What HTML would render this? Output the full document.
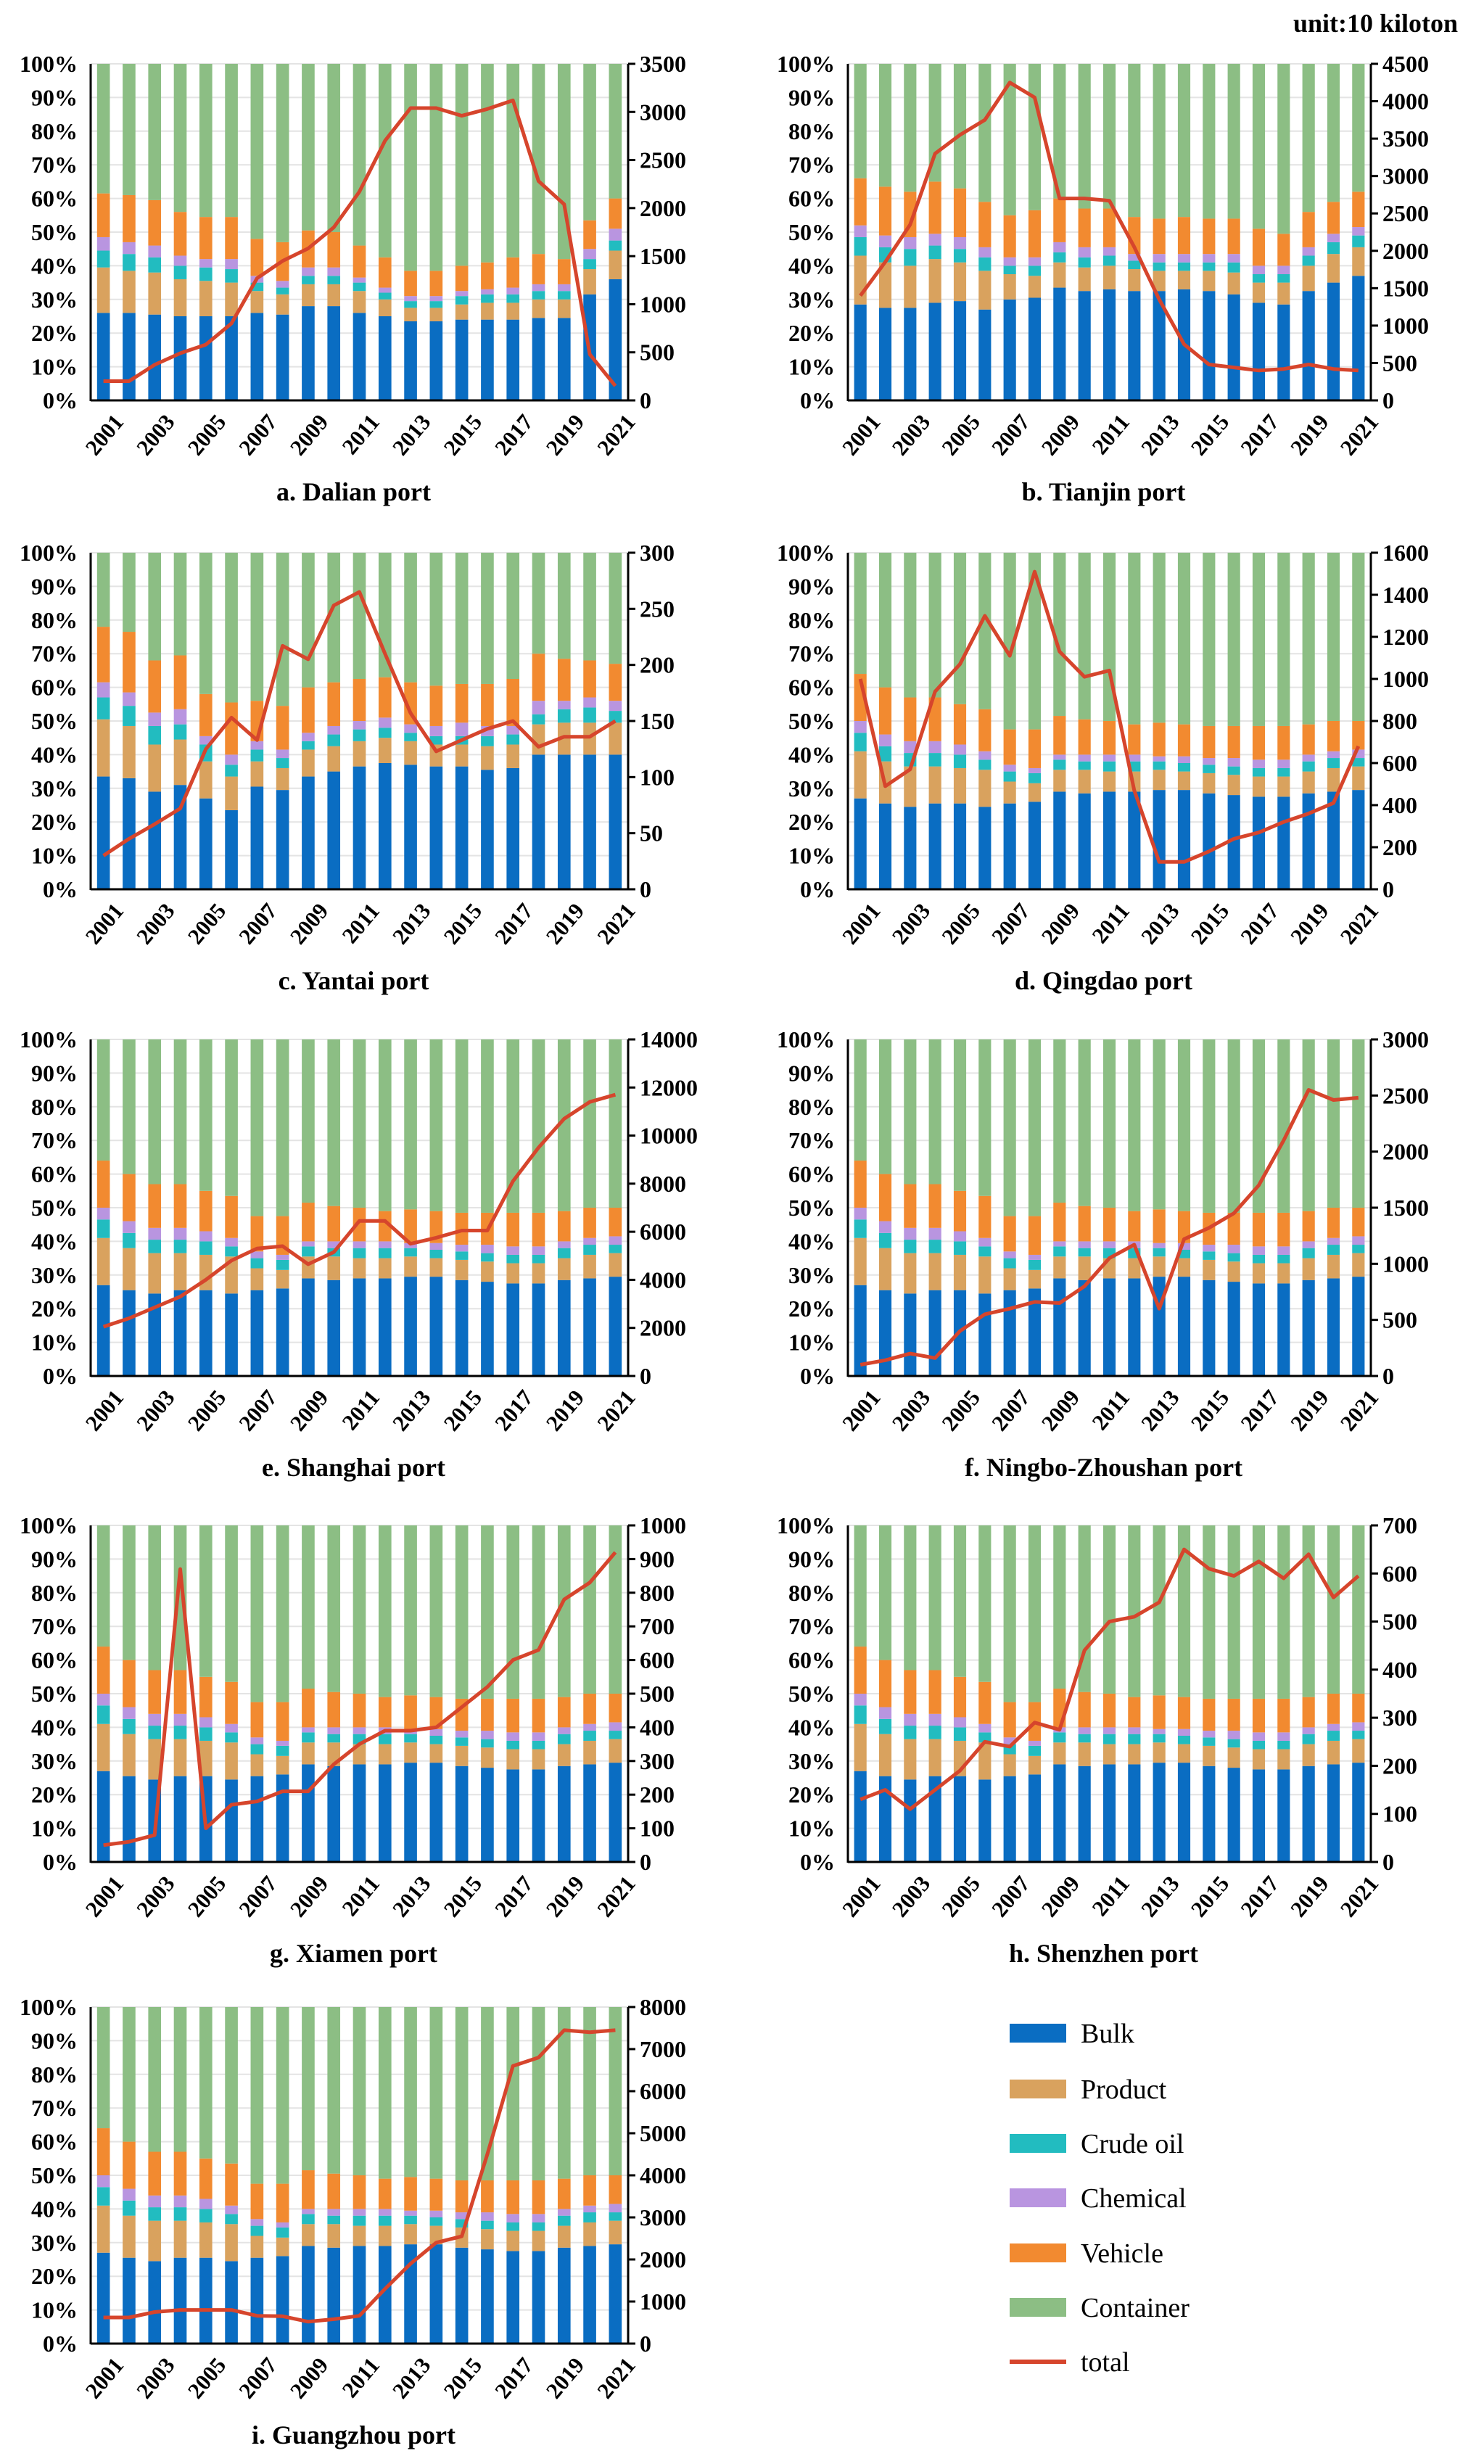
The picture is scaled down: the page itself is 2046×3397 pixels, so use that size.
<!DOCTYPE html>
<html><head><meta charset="utf-8">
<style>
html,body{margin:0;padding:0;background:#fff;}
body{width:2046px;height:3392px;position:relative;overflow:hidden;font-family:"Liberation Serif",serif;}
svg text{font-family:"Liberation Serif",serif;}
</style></head>
<body>
<svg id="fig" width="2046" height="3392" viewBox="0 0 2046 3392" xmlns="http://www.w3.org/2000/svg">
<text x="2010" y="44" text-anchor="end" font-size="36" font-weight="bold">unit:10 kiloton</text>
<g id="legend"></g>
</svg>
<script>
const years = [2001,2002,2003,2004,2005,2006,2007,2008,2009,2010,2011,2012,2013,2014,2015,2016,2017,2018,2019,2020,2021];
const categories = ["Bulk","Product","Crude oil","Chemical","Vehicle","Container"];
const colors = ["#0A6DC2","#D9A25E","#22BCC0","#B995E0","#F28A30","#8CBE84"];
const lineColor = "#D6452C";

// Cumulative share tops (%) per chart
const dalianBulk   = [26,26,25.5,25,25,25,26,25.5,28,28,26,25,23.5,23.5,24,24,24,24.5,24.5,31.5,36];
const dalianProd   = [39.5,38.5,38,36,35.5,35,32.5,31.5,34.5,34.5,32.5,30,27.5,27.5,28.5,29,29,30,30,39,44.5];
const dalianCrude  = [44.5,43.5,42.5,40,39.5,39,35,33.5,37,37,35,32,29.5,29.5,31,31.5,31.5,32.5,32.5,42,47.5];
const dalianChem   = [48.5,47,46,43,42,42,37,35.5,39.5,39.5,36.5,33.5,31,31,32.5,33,33.5,34.5,34.5,45,51];
const dalianVeh    = [61.5,61,59.5,56,54.5,54.5,48,47,50.5,50,46,42.5,38.5,38.5,40,41,42.5,43.5,42,53.5,60];
const dalianTotal  = [200,200,370,490,580,800,1270,1450,1580,1800,2170,2700,3040,3040,2960,3030,3120,2280,2040,480,150];

const tianjinBulk  = [28.5,27.5,27.5,29,29.5,27,30,30.5,33.5,32.5,33,32.5,32.5,33,32.5,31.5,29,28.5,32.5,35,37];
const tianjinProd  = [43,41,40,42,41,38.5,37.5,37,41,39.5,40,39,38.5,38.5,38.5,38,35,35,40,43.5,45.5];
const tianjinCrude = [48.5,45.5,45,46,45,42.5,40,40,44,42.5,43,41.5,41,41,41,41,37.5,37.5,43,47,49];
const tianjinChem  = [52,49,48.5,49.5,48.5,45.5,42.5,42.5,47,45.5,45.5,43.5,43.5,43.5,43.5,43.5,40,40,45.5,49.5,51.5];
const tianjinVeh   = [66,63.5,62,65,63,59,55,56.5,60,57,57,54.5,54,54.5,54,54,51,49.5,56,59,62];
const tianjinTotal = [1400,1850,2350,3300,3550,3750,4250,4050,2700,2700,2670,2050,1350,750,480,440,400,420,480,420,400];

const yantaiBulk   = [33.5,33,29,31,27,23.5,30.5,29.5,33.5,35,36.5,37.5,37,36.5,36.5,35.5,36,40,40,40,40];
const yantaiProd   = [50.5,48.5,43,44.5,38,33.5,38,36,41.5,42.5,44,45,44,43,43,42.5,43,49,49.5,49.5,49.5];
const yantaiCrude  = [57,54.5,48.5,49,43,37,41.5,39,44,46,47.5,48,46.5,45.5,45.5,45.5,46,52,53.5,54,53];
const yantaiChem   = [61.5,58.5,52.5,53.5,45.5,40,44,41.5,46.5,48.5,50,51,49,48.5,49.5,48.5,48.5,56,56,57,56];
const yantaiVeh    = [78,76.5,68,69.5,58,55.5,56,54.5,60,61.5,62.5,63,61.5,60.5,61,61,62.5,70,68.5,68,67];
const yantaiTotal  = [30,45,58,72,125,153,133,217,205,253,265,210,157,123,133,143,150,127,136,136,150];

// shared composition for d–i
const portBulk  = [27,25.5,24.5,25.5,25.5,24.5,25.5,26,29,28.5,29,29,29.5,29.5,28.5,28,27.5,27.5,28.5,29,29.5];
const portProd  = [41,38,36.5,36.5,36,35.5,32,31.5,35.5,35.5,35,35,35.5,35,34.5,34,33.5,33.5,35,36,36.5];
const portCrude = [46.5,42.5,40.5,40.5,40,38.5,35,34.5,38.5,38,38,38,38,37.5,37,36.5,36,36,38,39,39];
const portChem  = [50,46,44,44,43,41,37,36,40,40,40,40,39.5,39.5,39,39,38.5,38.5,40,41,41.5];
const portVeh   = [64,60,57,57,55,53.5,47.5,47.5,51.5,50.5,50,49,49.5,49,48.5,48.5,48.5,48.5,49,50,50];

const qingdaoTotal  = [1000,490,570,940,1070,1300,1110,1510,1130,1010,1040,470,130,130,180,240,270,320,360,410,680];
const shanghaiTotal = [2050,2400,2850,3300,4000,4800,5300,5400,4650,5150,6450,6450,5500,5750,6050,6050,8100,9500,10700,11400,11700];
const ningboTotal   = [100,140,200,160,400,550,600,660,650,800,1050,1170,600,1220,1320,1450,1700,2100,2550,2460,2480];
const xiamenTotal   = [50,60,80,870,100,170,180,210,210,290,350,390,390,400,460,520,600,630,780,830,920];
const shenzhenTotal = [130,150,110,150,190,250,240,290,275,440,500,510,540,650,610,595,625,590,640,550,595];
const guangzhouTotal= [620,620,750,800,800,800,660,650,520,580,660,1300,1900,2400,2550,4500,6600,6800,7450,7400,7450];

const rightMax = [3500,4500,300,1600,14000,3000,1000,700,8000];
const rightStep = [500,500,50,200,2000,500,100,100,1000];
const titles = ["a. Dalian port","b. Tianjin port","c. Yantai port","d. Qingdao port","e. Shanghai port","f. Ningbo-Zhoushan port","g. Xiamen port","h. Shenzhen port","i. Guangzhou port"];
const shares = [
 [dalianBulk,dalianProd,dalianCrude,dalianChem,dalianVeh],
 [tianjinBulk,tianjinProd,tianjinCrude,tianjinChem,tianjinVeh],
 [yantaiBulk,yantaiProd,yantaiCrude,yantaiChem,yantaiVeh],
 [portBulk,portProd,portCrude,portChem,portVeh],
 [portBulk,portProd,portCrude,portChem,portVeh],
 [portBulk,portProd,portCrude,portChem,portVeh],
 [portBulk,portProd,portCrude,portChem,portVeh],
 [portBulk,portProd,portCrude,portChem,portVeh],
 [portBulk,portProd,portCrude,portChem,portVeh]
];
const totals = [dalianTotal,tianjinTotal,yantaiTotal,qingdaoTotal,shanghaiTotal,ningboTotal,xiamenTotal,shenzhenTotal,guangzhouTotal];

const NS = "http://www.w3.org/2000/svg";
const svg = document.getElementById("fig");
function mk(tag, attrs, parent){
  const e = document.createElementNS(NS, tag);
  for (const k in attrs) e.setAttribute(k, attrs[k]);
  (parent||svg).appendChild(e);
  return e;
}
const colX = [[125,866],[1169,1890]];
const rowY = [88,762,1433,2103,2767];
const plotH = 464;

function drawChart(i){
  const col = i%2, row = Math.floor(i/2);
  const x0 = colX[col][0], x1 = colX[col][1];
  const yTop = rowY[row], yBot = yTop+plotH;
  const slot = (x1-x0)/years.length;
  const bw = slot*0.5;
  const g = mk("g", {});
  
  
  const yP = v => yBot - v/100*plotH;
  const yR = v => yBot - v/rightMax[i]*plotH;
  const xC = k => x0 + slot*(k+0.5);
  for (let p=10;p<=100;p+=10){
    const gl = mk("line",{x1:x0,x2:x1,y1:yP(p),y2:yP(p),stroke:"#e4e4e4","stroke-width":2},g);
    
    
  }
  const s = shares[i];
  years.forEach((yr,k)=>{
    let prev = 0;
    for (let c=0;c<6;c++){
      const top = c<5 ? s[c][k] : 100;
      const r = mk("rect",{x:xC(k)-bw/2,y:yP(top),width:bw,height:Math.max(0,yP(prev)-yP(top)),fill:colors[c]},g);
      
      
      prev = top;
    }
  });
  const la = mk("line",{x1:x0,x2:x0,y1:yTop,y2:yBot+1,stroke:"#000","stroke-width":3},g);
  
  
  const ra = mk("line",{x1:x1,x2:x1,y1:yTop,y2:yBot+1,stroke:"#000","stroke-width":3},g);
  
  
  const xa = mk("line",{x1:x0,x2:x1,y1:yBot,y2:yBot,stroke:"#000","stroke-width":3},g);
  
  
  for (let p=0;p<=100;p+=10){
    const t = mk("text",{x:x0-18,y:yP(p)+11,"text-anchor":"end","font-size":32,"font-weight":"bold"},g);
    t.textContent = p+"%";
    
    
  }
  for (let v=0;v<=rightMax[i];v+=rightStep[i]){
    const tk = mk("line",{x1:x1,x2:x1+10,y1:yR(v),y2:yR(v),stroke:"#000","stroke-width":3},g);
    
    
    const t = mk("text",{x:x1+16,y:yR(v)+11,"font-size":32,"font-weight":"bold"},g);
    t.textContent = v;
    
    
  }
  years.forEach((yr,k)=>{
    if (k%2) return;
    const px = xC(k)+12, py = yBot+16;
    const t = mk("text",{x:px,y:py,"text-anchor":"end","font-size":31,"font-weight":"bold",transform:`rotate(-50 ${px} ${py})`,"dominant-baseline":"hanging"},g);
    t.textContent = yr;
    
    
  });
  const pts = totals[i].map((v,k)=>xC(k).toFixed(1)+","+yR(v).toFixed(1)).join(" ");
  const pl = mk("polyline",{points:pts,fill:"none",stroke:lineColor,"stroke-width":5,"stroke-linejoin":"round"},g);
  
  
  const tt = mk("text",{x:(x0+x1)/2-8,y:yTop+602,"text-anchor":"middle","font-size":36,"font-weight":"bold"},g);
  tt.textContent = titles[i];
  
  
}
for (let i=0;i<9;i++) drawChart(i);

const lg = document.getElementById("legend");
const legY = [2803,2880,2955,3030,3106,3181,3256];
categories.forEach((c,k)=>{
  const r = mk("rect",{x:1392,y:legY[k]-13,width:78,height:26,fill:colors[k]},lg);
  
  
  const t = mk("text",{x:1490,y:legY[k]+13,"font-size":38},lg);
  t.textContent = c;
  
  
});
const ll = mk("line",{x1:1392,x2:1470,y1:legY[6],y2:legY[6],stroke:lineColor,"stroke-width":6},lg);


const lt = mk("text",{x:1490,y:legY[6]+13,"font-size":38},lg);
lt.textContent = "total";


</script>
</body></html>
